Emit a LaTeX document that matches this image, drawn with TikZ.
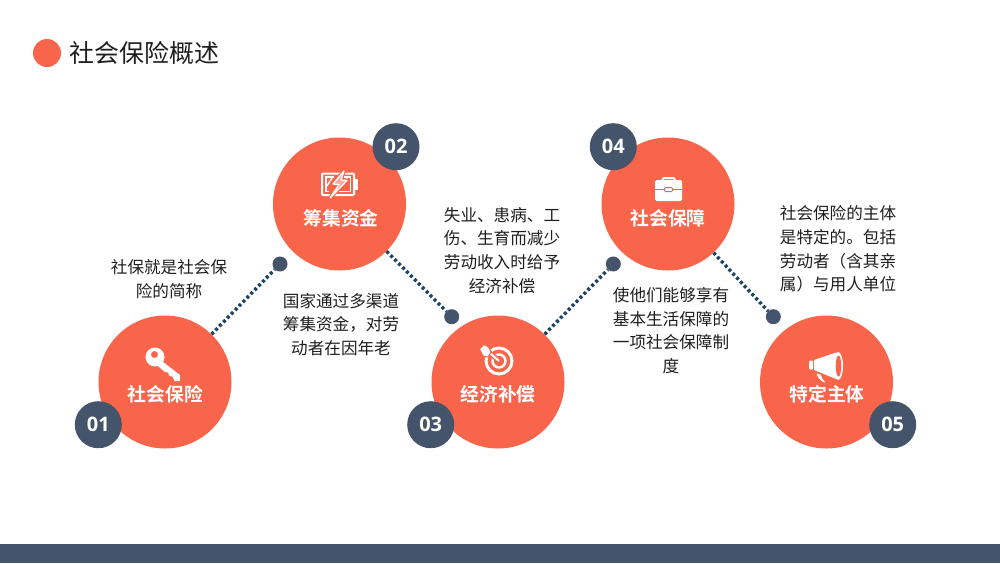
\documentclass[tikz,border=0pt]{standalone}
\usepackage{fontspec}
\setmainfont{Noto Sans CJK SC}[BoldFont={Noto Sans CJK SC Bold}]
\newfontfamily\numfont{Open Sans}[BoldFont={Open Sans Bold}]
\definecolor{accent}{HTML}{F8654A}
\definecolor{slate}{HTML}{44546A}
\definecolor{dotline}{HTML}{1B4468}
\definecolor{ink}{HTML}{1F1F1F}
\tikzset{
 bigc/.style={circle,fill=accent,minimum size=133pt,inner sep=0pt},
 badge/.style={circle,fill=slate,minimum size=47pt,inner sep=0pt,text=white,font=\numfont\bfseries\fontsize{20}{22}\selectfont},
 joint/.style={circle,fill=slate,minimum size=15pt,inner sep=0pt},
 conn/.style={draw=dotline,line width=3.4pt,dash pattern=on 3pt off 2.6pt},
 lab/.style={text=white,font=\bfseries\fontsize{18.8}{22}\selectfont,inner sep=0pt},
 body/.style={text=ink,align=center,inner sep=0pt,font=\fontsize{16.6}{23.7}\selectfont},
 ic/.style={fill=white,draw=none},
 icl/.style={draw=white,fill=none},
 halo/.style={draw=accent,fill=white,line width=1pt,line join=round}
}
\begin{document}
\begin{tikzpicture}[x=1pt,y=-1pt]
\useasboundingbox (0,0) rectangle (1000,563);
\fill[white] (0,0) rectangle (1000,563);
\node[fill=slate,minimum width=1000pt,minimum height=19pt,inner sep=0pt] (bar) at (500,553.5) {};
\node[circle,fill=accent,minimum size=28pt,inner sep=0pt] (tdot) at (47,53) {};
\node[text=ink,inner sep=0pt,font=\fontsize{24.9}{30}\selectfont] (title) at (144.5,53) {社会保险概述};

\node[bigc] (c1) at (165,382) {};
\node[bigc] (c2) at (339.5,204) {};
\node[bigc] (c3) at (498,382) {};
\node[bigc] (c4) at (668,204) {};
\node[bigc] (c5) at (826.5,382) {};

\node[joint] (d1) at (280,264) {};
\node[joint] (d2) at (451.7,316.7) {};
\node[joint] (d3) at (613.3,264) {};
\node[joint] (d4) at (773.3,316.7) {};

\draw[conn] (c1) -- (d1);
\draw[conn] (c2) -- (d2);
\draw[conn] (c3) -- (d3);
\draw[conn] (c4) -- (d4);

\node[badge] (b1) at (98.3,424.7) {01};
\node[badge] (b2) at (396,146.7) {02};
\node[badge] (b3) at (430.7,424.7) {03};
\node[badge] (b4) at (613.3,146.7) {04};
\node[badge] (b5) at (892.7,424.7) {05};

\node[lab] (l1) at (165.5,394) {社会保险};
\node[lab] (l2) at (341,218.5) {筹集资金};
\node[lab] (l3) at (498,394) {经济补偿};
\node[lab] (l4) at (668,218.5) {社会保障};
\node[lab] (l5) at (827,394) {特定主体};

\node[body] (t1) at (169,279) {社保就是社会保\\险的简称};
\node[body] (t2) at (341,324.5) {国家通过多渠道\\筹集资金，对劳\\动者在因年老};
\node[body] (t3) at (502,250.5) {失业、患病、工\\伤、生育而减少\\劳动收入时给予\\经济补偿};
\node[body] (t4) at (671,330.5) {使他们能够享有\\基本生活保障的\\一项社会保障制\\度};
\node[body] (t5) at (838,249) {社会保险的主体\\是特定的。包括\\劳动者（含其亲\\属）与用人单位};

% key
\fill[ic,even odd rule] (155,357) circle (9.5) (154.5,354.5) circle (3.6);
\fill[ic] (158,358) -- (180,375) -- (180,381) -- (174.5,381) -- (172.5,376.5) -- (169.5,376) -- (168,372.5) -- (165,372) -- (153,362) -- cycle;

% battery
\draw[icl,line width=2pt,rounded corners=1pt] (322,173.5) rectangle (354,195);
\fill[ic] (355,179) rectangle (358,189.5);
\draw[icl,line width=1.4pt] (334,177) -- (326,177) -- (326,191.5) -- (329,191.5);
\draw[icl,line width=1.4pt] (344,177) -- (350.5,177) -- (350.5,191.5) -- (338,191.5);
\draw[icl,line width=1.4pt] (327,186) -- (332,178) (347,178) -- (341,187);
\draw[accent,line width=3.6pt,line join=round,fill=accent] (344,171) -- (333,184) -- (339,184.5) -- (330,198) -- (347,180.5) -- (341,180) -- cycle;
\draw[white,line width=1.3pt,line join=round,fill=white!45!accent] (344,171) -- (333,184) -- (339,184.5) -- (330,198) -- (347,180.5) -- (341,180) -- cycle;

% target
\draw[icl,line width=3pt] (499,361) circle (13);
\draw[icl,line width=2.4pt] (499,361) circle (6.5);
\draw[accent,line width=5pt] (484,348) -- (498,360);
\draw[white,line width=2pt] (484,348) -- (499,361);
\path[halo] (479.5,349) -- (484,344.5) -- (488.5,347) -- (491,352) -- (488,357) -- (483,356) -- cycle;

% briefcase
\draw[icl,line width=2pt,rounded corners=2pt] (662.5,181) -- (662.5,178) -- (675,178) -- (675,181);
\fill[ic,rounded corners=1.5pt] (655,180) rectangle (682,201);
\draw[accent,line width=1pt] (655,189.5) -- (664,189.5) (673,189.5) -- (682,189.5);
\draw[accent,fill=white,line width=1pt,rounded corners=1pt] (664.5,187.5) rectangle (672.5,191.5);

% megaphone
\fill[ic,rounded corners=1pt] (809,360.5) rectangle (813,369.5);
\fill[ic] (814,360) -- (836,352.5) -- (836,379) -- (814,370) -- cycle;
\fill[white] (838,366) ellipse (5 and 14);
\fill[accent] (838.5,366) ellipse (2.8 and 10.5);
\fill[ic] (816.5,373.5) -- (820.5,374.5) .. controls (821.5,378) and (823,380) .. (825.5,382.5) .. controls (821,382) and (818,378) .. (816.5,373.5) -- cycle;
\end{tikzpicture}
\end{document}
